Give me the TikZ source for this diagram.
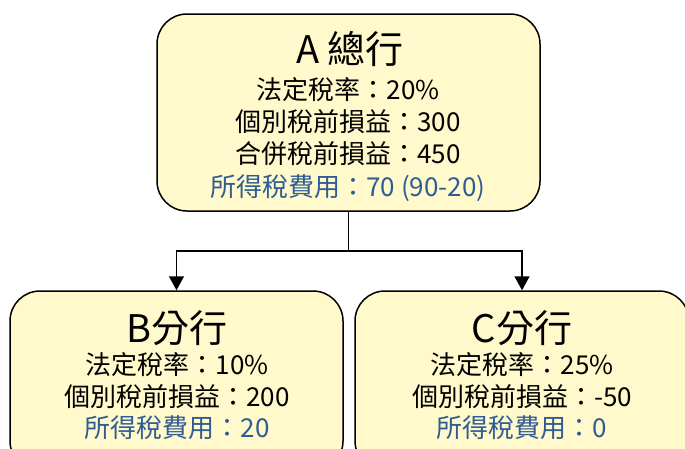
\documentclass[tikz,border=0pt]{standalone}
\usepackage{fontspec}
\setmainfont{Noto Sans CJK TC}
\usetikzlibrary{arrows.meta}
\definecolor{boxfill}{HTML}{FFF9CC}
\definecolor{bluetxt}{HTML}{2F5D93}
\tikzset{
  unitbox/.style={draw=black, line width=1.5pt, fill=boxfill, rounded corners=30pt, inner sep=0pt},
  titletxt/.style={anchor=base, font=\fontsize{38}{40}\selectfont, inner sep=0pt},
  bodytxt/.style={anchor=base, font=\fontsize{26}{30}\selectfont, inner sep=0pt},
  bluebody/.style={bodytxt, text=bluetxt},
  arr/.style={line width=1.6pt, -{Triangle[width=15pt,length=14pt]}},
  conn/.style={line width=1.6pt}
}
\begin{document}
\begin{tikzpicture}[x=1pt,y=-1pt]
\useasboundingbox (0,0) rectangle (685,448);
\node[unitbox, minimum width=383pt, minimum height=197pt] (A) at (348.5,112.5) {};
\node[unitbox, minimum width=333pt, minimum height=180pt] (B) at (176.5,381) {};
\node[unitbox, minimum width=334pt, minimum height=180pt] (C) at (522,381) {};

\node[titletxt] (At) at (350,63) {A 總行};
\node[bodytxt] (A1) at (348,99) {法定稅率：20\%};
\node[bodytxt] (A2) at (348,131) {個別稅前損益：300};
\node[bodytxt] (A3) at (348,163) {合併稅前損益：450};
\node[bluebody] (A4) at (348,196) {所得稅費用：70 (90-20)};

\node[titletxt] (Bt) at (177,342) {B分行};
\node[bodytxt] (B1) at (177,374) {法定稅率：10\%};
\node[bodytxt] (B2) at (177,406) {個別稅前損益：200};
\node[bluebody] (B3) at (177,437) {所得稅費用：20};

\node[titletxt] (Ct) at (522,342) {C分行};
\node[bodytxt] (C1) at (522,374) {法定稅率：25\%};
\node[bodytxt] (C2) at (522,406) {個別稅前損益：-50};
\node[bluebody] (C3) at (522,437) {所得稅費用：0};

\coordinate (J) at (348.5,251);
\draw[conn] (A.south) -- (J);
\draw[arr] (J) -| (B.north);
\draw[arr] (J) -| (C.north);
\end{tikzpicture}
\end{document}
